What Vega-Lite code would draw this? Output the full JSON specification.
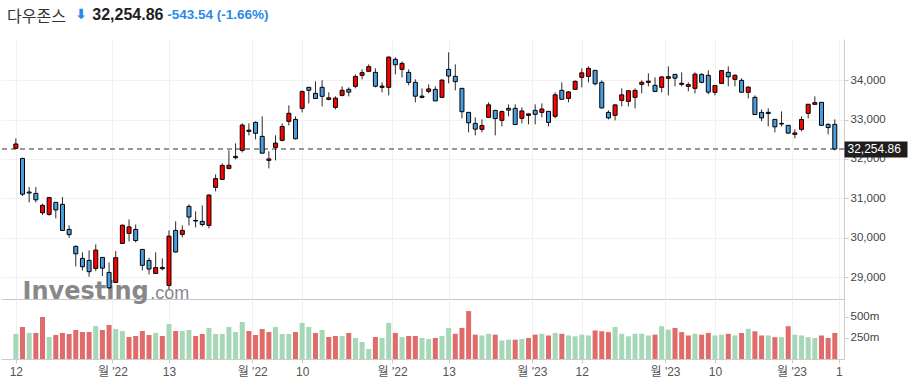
{
  "$schema": "https://vega.github.io/schema/vega-lite/v6.json",
  "background": "white",
  "autosize": {"type": "pad"},
  "padding": {"top": 7, "left": 0, "right": 0, "bottom": 0},
  "config": {"view": {"stroke": null}, "font": "Liberation Sans"},
  "title": {
    "text": "32,254.86",
    "subtitle": "\u200b\u00a0\u00a0\u00a0\u00a0\u00a0\u00a0\u00a0\u00a0\u00a0\u00a0\u00a0\u00a0\u00a0\u00a0\u00a0\u00a0\u00a0\u00a0\u00a0\u00a0-543.54 (-1.66%)",
    "anchor": "start", "frame": "bounds",
    "font": "Liberation Sans", "fontSize": 16, "fontWeight": "bold", "color": "#222",
    "subtitleFont": "Liberation Sans", "subtitleFontSize": 13.5, "subtitleFontWeight": "bold", "subtitleColor": "#2a8be5",
    "subtitlePadding": -15, "offset": -15, "dx": 92
  },
  "data": {"values": [
    {"date":"2022-09-12","i":0,"open":32270,"high":32524,"low":32255,"close":32381,"volume":298},
    {"date":"2022-09-13","i":1,"open":32015,"high":32030,"low":31058,"close":31105,"volume":381},
    {"date":"2022-09-14","i":2,"open":31160,"high":31287,"low":30897,"close":31135,"volume":310},
    {"date":"2022-09-15","i":3,"open":31125,"high":31287,"low":30897,"close":30962,"volume":310},
    {"date":"2022-09-16","i":4,"open":30634,"high":30863,"low":30575,"close":30822,"volume":500},
    {"date":"2022-09-19","i":5,"open":30591,"high":31030,"low":30560,"close":31020,"volume":262},
    {"date":"2022-09-20","i":6,"open":30897,"high":30900,"low":30490,"close":30706,"volume":286},
    {"date":"2022-09-21","i":7,"open":30846,"high":31032,"low":30170,"close":30184,"volume":310},
    {"date":"2022-09-22","i":8,"open":30210,"high":30312,"low":29998,"close":30077,"volume":298},
    {"date":"2022-09-23","i":9,"open":29778,"high":29803,"low":29269,"close":29590,"volume":345},
    {"date":"2022-09-26","i":10,"open":29473,"high":29625,"low":29167,"close":29261,"volume":321},
    {"date":"2022-09-27","i":11,"open":29422,"high":29676,"low":29006,"close":29135,"volume":321},
    {"date":"2022-09-28","i":12,"open":29218,"high":29829,"low":29150,"close":29684,"volume":393},
    {"date":"2022-09-29","i":13,"open":29498,"high":29500,"low":29023,"close":29226,"volume":345},
    {"date":"2022-09-30","i":14,"open":29117,"high":29371,"low":28700,"close":28726,"volume":405},
    {"date":"2022-10-03","i":15,"open":28862,"high":29659,"low":28850,"close":29491,"volume":357},
    {"date":"2022-10-04","i":16,"open":29854,"high":30337,"low":29854,"close":30316,"volume":333},
    {"date":"2022-10-05","i":17,"open":30108,"high":30464,"low":29905,"close":30274,"volume":262},
    {"date":"2022-10-06","i":18,"open":30210,"high":30337,"low":29879,"close":29927,"volume":274},
    {"date":"2022-10-07","i":19,"open":29702,"high":29702,"low":29167,"close":29297,"volume":333},
    {"date":"2022-10-10","i":20,"open":29422,"high":29490,"low":29066,"close":29203,"volume":286},
    {"date":"2022-10-11","i":21,"open":29091,"high":29625,"low":29091,"close":29239,"volume":310},
    {"date":"2022-10-12","i":22,"open":29244,"high":29473,"low":29168,"close":29211,"volume":274},
    {"date":"2022-10-13","i":23,"open":28786,"high":30185,"low":28684,"close":30039,"volume":417},
    {"date":"2022-10-14","i":24,"open":30185,"high":30414,"low":29620,"close":29635,"volume":333},
    {"date":"2022-10-17","i":25,"open":30083,"high":30312,"low":30007,"close":30186,"volume":333},
    {"date":"2022-10-18","i":26,"open":30795,"high":30846,"low":30312,"close":30524,"volume":345},
    {"date":"2022-10-19","i":27,"open":30439,"high":30668,"low":30261,"close":30424,"volume":274},
    {"date":"2022-10-20","i":28,"open":30414,"high":30820,"low":30286,"close":30334,"volume":298},
    {"date":"2022-10-21","i":29,"open":30312,"high":31100,"low":30236,"close":31083,"volume":369},
    {"date":"2022-10-24","i":30,"open":31278,"high":31609,"low":31176,"close":31500,"volume":298},
    {"date":"2022-10-25","i":31,"open":31481,"high":31888,"low":31481,"close":31837,"volume":298},
    {"date":"2022-10-26","i":32,"open":31761,"high":32219,"low":31736,"close":31839,"volume":381},
    {"date":"2022-10-27","i":33,"open":32066,"high":32397,"low":31990,"close":32033,"volume":321},
    {"date":"2022-10-28","i":34,"open":32219,"high":32905,"low":32168,"close":32862,"volume":440},
    {"date":"2022-10-31","i":35,"open":32702,"high":32905,"low":32600,"close":32733,"volume":333},
    {"date":"2022-11-01","i":36,"open":32931,"high":32956,"low":32499,"close":32653,"volume":286},
    {"date":"2022-11-02","i":37,"open":32575,"high":33083,"low":32140,"close":32148,"volume":357},
    {"date":"2022-11-03","i":38,"open":31965,"high":32193,"low":31761,"close":32001,"volume":321},
    {"date":"2022-11-04","i":39,"open":32295,"high":32600,"low":31965,"close":32403,"volume":381},
    {"date":"2022-11-07","i":40,"open":32473,"high":32905,"low":32448,"close":32827,"volume":298},
    {"date":"2022-11-08","i":41,"open":32956,"high":33363,"low":32855,"close":33161,"volume":298},
    {"date":"2022-11-09","i":42,"open":33007,"high":33083,"low":32499,"close":32514,"volume":321},
    {"date":"2022-11-10","i":43,"open":33287,"high":33745,"low":33185,"close":33715,"volume":429},
    {"date":"2022-11-11","i":44,"open":33821,"high":33830,"low":33414,"close":33748,"volume":381},
    {"date":"2022-11-14","i":45,"open":33668,"high":33973,"low":33530,"close":33537,"volume":310},
    {"date":"2022-11-15","i":46,"open":33821,"high":34000,"low":33338,"close":33593,"volume":345},
    {"date":"2022-11-16","i":47,"open":33516,"high":33694,"low":33490,"close":33554,"volume":262},
    {"date":"2022-11-17","i":48,"open":33312,"high":33592,"low":33262,"close":33546,"volume":274},
    {"date":"2022-11-18","i":49,"open":33617,"high":33846,"low":33592,"close":33746,"volume":274},
    {"date":"2022-11-21","i":50,"open":33770,"high":33821,"low":33592,"close":33700,"volume":310},
    {"date":"2022-11-22","i":51,"open":33846,"high":34151,"low":33795,"close":34098,"volume":250},
    {"date":"2022-11-23","i":52,"open":34126,"high":34278,"low":34024,"close":34194,"volume":202},
    {"date":"2022-11-25","i":53,"open":34228,"high":34406,"low":34228,"close":34347,"volume":119},
    {"date":"2022-11-28","i":54,"open":34202,"high":34304,"low":33821,"close":33849,"volume":262},
    {"date":"2022-11-29","i":55,"open":33821,"high":33948,"low":33694,"close":33853,"volume":250},
    {"date":"2022-11-30","i":56,"open":33821,"high":34609,"low":33617,"close":34590,"volume":429},
    {"date":"2022-12-01","i":57,"open":34533,"high":34584,"low":34151,"close":34395,"volume":310},
    {"date":"2022-12-02","i":58,"open":34278,"high":34482,"low":34075,"close":34430,"volume":262},
    {"date":"2022-12-05","i":59,"open":34202,"high":34278,"low":33872,"close":33947,"volume":274},
    {"date":"2022-12-06","i":60,"open":33948,"high":34024,"low":33440,"close":33596,"volume":274},
    {"date":"2022-12-07","i":61,"open":33567,"high":33795,"low":33541,"close":33598,"volume":250},
    {"date":"2022-12-08","i":62,"open":33719,"high":33897,"low":33668,"close":33781,"volume":238},
    {"date":"2022-12-09","i":63,"open":33770,"high":33846,"low":33470,"close":33476,"volume":250},
    {"date":"2022-12-12","i":64,"open":33567,"high":34024,"low":33560,"close":34005,"volume":274},
    {"date":"2022-12-13","i":65,"open":34278,"high":34711,"low":33922,"close":34109,"volume":369},
    {"date":"2022-12-14","i":66,"open":34100,"high":34406,"low":33745,"close":33966,"volume":300},
    {"date":"2022-12-15","i":67,"open":33795,"high":33795,"low":33033,"close":33202,"volume":370},
    {"date":"2022-12-16","i":68,"open":33185,"high":33185,"low":32677,"close":32920,"volume":570},
    {"date":"2022-12-19","i":69,"open":32905,"high":33058,"low":32600,"close":32758,"volume":290},
    {"date":"2022-12-20","i":70,"open":32753,"high":33007,"low":32677,"close":32850,"volume":280},
    {"date":"2022-12-21","i":71,"open":33058,"high":33440,"low":33058,"close":33376,"volume":300},
    {"date":"2022-12-22","i":72,"open":33236,"high":33236,"low":32600,"close":33027,"volume":290},
    {"date":"2022-12-23","i":73,"open":32982,"high":33236,"low":32829,"close":33204,"volume":220},
    {"date":"2022-12-27","i":74,"open":33287,"high":33389,"low":33083,"close":33242,"volume":230},
    {"date":"2022-12-28","i":75,"open":33287,"high":33389,"low":32870,"close":32876,"volume":230},
    {"date":"2022-12-29","i":76,"open":33033,"high":33312,"low":32905,"close":33221,"volume":240},
    {"date":"2022-12-30","i":77,"open":33109,"high":33160,"low":32880,"close":33147,"volume":250},
    {"date":"2023-01-03","i":78,"open":33236,"high":33389,"low":32880,"close":33136,"volume":290},
    {"date":"2023-01-04","i":79,"open":33185,"high":33414,"low":33058,"close":33270,"volume":300},
    {"date":"2023-01-05","i":80,"open":33210,"high":33210,"low":32829,"close":32930,"volume":280},
    {"date":"2023-01-06","i":81,"open":33084,"high":33694,"low":33033,"close":33631,"volume":310},
    {"date":"2023-01-09","i":82,"open":33745,"high":33948,"low":33516,"close":33518,"volume":300},
    {"date":"2023-01-10","i":83,"open":33541,"high":33719,"low":33440,"close":33704,"volume":280},
    {"date":"2023-01-11","i":84,"open":33770,"high":33999,"low":33770,"close":33973,"volume":270},
    {"date":"2023-01-12","i":85,"open":34075,"high":34304,"low":33821,"close":34190,"volume":290},
    {"date":"2023-01-13","i":86,"open":34100,"high":34355,"low":33948,"close":34303,"volume":280},
    {"date":"2023-01-17","i":87,"open":34253,"high":34253,"low":33872,"close":33911,"volume":340},
    {"date":"2023-01-18","i":88,"open":33948,"high":33999,"low":33287,"close":33297,"volume":330},
    {"date":"2023-01-19","i":89,"open":33185,"high":33236,"low":33007,"close":33045,"volume":320},
    {"date":"2023-01-20","i":90,"open":33109,"high":33389,"low":32982,"close":33375,"volume":380},
    {"date":"2023-01-23","i":91,"open":33490,"high":33795,"low":33338,"close":33630,"volume":300},
    {"date":"2023-01-24","i":92,"open":33465,"high":33745,"low":33338,"close":33734,"volume":270},
    {"date":"2023-01-25","i":93,"open":33567,"high":33795,"low":33287,"close":33744,"volume":300},
    {"date":"2023-01-26","i":94,"open":33897,"high":33999,"low":33668,"close":33949,"volume":300},
    {"date":"2023-01-27","i":95,"open":33948,"high":34177,"low":33846,"close":33978,"volume":280},
    {"date":"2023-01-30","i":96,"open":33872,"high":34075,"low":33700,"close":33717,"volume":290},
    {"date":"2023-01-31","i":97,"open":33821,"high":34100,"low":33694,"close":34086,"volume":390},
    {"date":"2023-02-01","i":98,"open":34050,"high":34355,"low":33617,"close":34093,"volume":350},
    {"date":"2023-02-02","i":99,"open":34151,"high":34151,"low":33846,"close":34054,"volume":370},
    {"date":"2023-02-03","i":100,"open":33897,"high":34202,"low":33846,"close":33926,"volume":320},
    {"date":"2023-02-06","i":101,"open":33846,"high":33948,"low":33719,"close":33891,"volume":280},
    {"date":"2023-02-07","i":102,"open":33795,"high":34202,"low":33668,"close":34157,"volume":300},
    {"date":"2023-02-08","i":103,"open":34151,"high":34177,"low":33922,"close":33949,"volume":290},
    {"date":"2023-02-09","i":104,"open":34126,"high":34253,"low":33643,"close":33700,"volume":310},
    {"date":"2023-02-10","i":105,"open":33694,"high":33872,"low":33617,"close":33869,"volume":280},
    {"date":"2023-02-13","i":106,"open":33922,"high":34253,"low":33922,"close":34246,"volume":290},
    {"date":"2023-02-14","i":107,"open":34202,"high":34355,"low":33846,"close":34089,"volume":300},
    {"date":"2023-02-15","i":108,"open":34024,"high":34151,"low":33846,"close":34128,"volume":280},
    {"date":"2023-02-16","i":109,"open":33999,"high":34050,"low":33696,"close":33697,"volume":310},
    {"date":"2023-02-17","i":110,"open":33694,"high":33846,"low":33541,"close":33827,"volume":360},
    {"date":"2023-02-21","i":111,"open":33567,"high":33617,"low":33129,"close":33130,"volume":330},
    {"date":"2023-02-22","i":112,"open":33185,"high":33261,"low":32956,"close":33045,"volume":280},
    {"date":"2023-02-23","i":113,"open":33185,"high":33287,"low":32829,"close":33154,"volume":280},
    {"date":"2023-02-24","i":114,"open":33007,"high":33007,"low":32677,"close":32817,"volume":260},
    {"date":"2023-02-27","i":115,"open":32905,"high":33210,"low":32829,"close":32889,"volume":260},
    {"date":"2023-02-28","i":116,"open":32855,"high":32855,"low":32651,"close":32657,"volume":390},
    {"date":"2023-03-01","i":117,"open":32626,"high":32753,"low":32524,"close":32662,"volume":290},
    {"date":"2023-03-02","i":118,"open":32753,"high":33083,"low":32702,"close":33004,"volume":280},
    {"date":"2023-03-03","i":119,"open":33160,"high":33391,"low":33033,"close":33391,"volume":260},
    {"date":"2023-03-06","i":120,"open":33389,"high":33592,"low":33389,"close":33431,"volume":250},
    {"date":"2023-03-07","i":121,"open":33440,"high":33440,"low":32856,"close":32856,"volume":280},
    {"date":"2023-03-08","i":122,"open":32880,"high":32905,"low":32626,"close":32798,"volume":250},
    {"date":"2023-03-09","i":123,"open":32880,"high":33007,"low":32219,"close":32255,"volume":310}
  ]},
  "vconcat": [
    {
      "width": 843,
      "height": 260,
      "title": {
        "text": "다우존스",
        "subtitle": "\u200b\u00a0\u00a0\u00a0\u00a0\u00a0\u00a0\u00a0\u00a0\u00a0\u00a0\u00a0\u00a0\u00a0\u00a0⬇",
        "anchor": "start", "frame": "group",
        "font": "Noto Sans CJK KR", "fontSize": 16, "fontWeight": "normal", "color": "#333",
        "subtitleFont": "DejaVu Sans", "subtitleFontSize": 14, "subtitleFontWeight": "bold", "subtitleColor": "#2a8be5",
        "subtitlePadding": -17, "offset": 13, "dx": 6
      },
      "resolve": {"axis": {"y": "independent"}},
      "layer": [
        {
          "data": {"values": [{}]},
          "mark": {"type": "text", "text": "Investing", "font": "DejaVu Sans", "fontSize": 24, "fontWeight": "bold", "color": "#888888", "align": "left", "baseline": "alphabetic"},
          "encoding": {
            "x": {"datum": 1.0, "type": "quantitative"},
            "y": {"datum": 28430, "type": "quantitative", "axis": null}
          }
        },
        {
          "data": {"values": [{}]},
          "mark": {"type": "text", "text": ".com", "font": "Liberation Sans", "fontSize": 18, "fontWeight": "normal", "color": "#888888", "align": "left", "baseline": "alphabetic"},
          "encoding": {
            "x": {"datum": 20.2, "type": "quantitative"},
            "y": {"datum": 28430, "type": "quantitative", "axis": null}
          }
        },
        {
          "data": {"values": [{}]},
          "mark": {"type": "rule", "strokeDash": [5, 4], "color": "#777", "strokeWidth": 1.5},
          "encoding": {
            "y": {"datum": 32254.86, "type": "quantitative",
              "axis": {"orient": "right", "values": [32254.86], "format": ",.2f", "grid": false, "domain": false,
                "ticks": true, "tickSize": 63, "tickWidth": 16, "tickColor": "#1e1e1e",
                "labelColor": "#ffffff", "labelFontSize": 12, "labelPadding": -60, "labelAlign": "left",
                "labelFont": "Liberation Sans", "title": null, "zindex": 3}}
          }
        },
        {
          "mark": {"type": "rule", "color": "#2a2a2a", "strokeWidth": 1},
          "encoding": {
            "x": {"field": "i", "type": "quantitative",
              "scale": {"domain": [-1.48, 123.63], "nice": false, "zero": false},
              "axis": {"orient": "bottom", "values": [0, 14.5, 23, 35.5, 43, 56.5, 65, 77.5, 85, 97.5, 105, 116.5, 123.6],
                "labels": false, "ticks": false, "grid": true, "gridColor": "#f0f0f0", "domain": true, "domainColor": "#c8c8c8", "title": null}},
            "y": {"field": "low", "type": "quantitative",
              "scale": {"domain": [28441, 35050], "nice": false, "zero": false},
              "axis": {"orient": "right", "values": [29000, 30000, 31000, 32000, 33000, 34000], "format": ",.0f",
                "grid": true, "gridColor": "#f2f2f2", "tickSize": 4, "tickColor": "#ccc", "domainColor": "#ccc",
                "labelFontSize": 11.5, "labelColor": "#444", "labelPadding": 2, "labelFont": "Liberation Sans", "title": null}},
            "y2": {"field": "high"}
          }
        },
        {
          "mark": {"type": "bar", "width": 4, "stroke": "#000", "strokeWidth": 1},
          "encoding": {
            "x": {"field": "i", "type": "quantitative"},
            "y": {"field": "open", "type": "quantitative", "axis": null},
            "y2": {"field": "close"},
            "fill": {"condition": {"test": "datum.close >= datum.open", "value": "#ff0000"}, "value": "#4a9de0"}
          }
        }
      ]
    },
    {
      "width": 843,
      "height": 60,
      "transform": [{"window": [{"op": "lag", "field": "close", "as": "prev"}], "sort": [{"field": "i", "order": "ascending"}]}],
      "mark": {"type": "bar", "width": 5},
      "encoding": {
        "x": {"field": "i", "type": "quantitative",
          "scale": {"domain": [-1.48, 123.63], "nice": false, "zero": false},
          "axis": {"orient": "bottom", "values": [0, 14.5, 23, 35.5, 43, 56.5, 65, 77.5, 85, 97.5, 105, 116.5, 123.6],
            "labelExpr": "datum.value == 0 ? '12' : datum.value == 14.5 ? \"월 '22\" : datum.value == 23 ? '13' : datum.value == 35.5 ? \"월 '22\" : datum.value == 43 ? '10' : datum.value == 56.5 ? \"월 '22\" : datum.value == 65 ? '13' : datum.value == 77.5 ? \"월 '23\" : datum.value == 85 ? '12' : datum.value == 97.5 ? \"월 '23\" : datum.value == 105 ? '10' : datum.value == 116.5 ? \"월 '23\" : '1'",
            "labelFont": "Liberation Sans, Noto Sans CJK KR", "labelFontSize": 12, "labelColor": "#555",
            "labelFlush": false, "labelOverlap": false, "labelPadding": 3,
            "grid": true, "gridColor": "#f0f0f0", "ticks": true, "tickSize": 4, "tickColor": "#ccc",
            "domain": true, "domainColor": "#ccc", "title": null}},
        "y": {"field": "volume", "type": "quantitative",
          "scale": {"domain": [0, 714], "nice": false},
          "axis": {"orient": "right", "values": [250, 500], "labelExpr": "datum.value + 'm'", "grid": false,
            "tickSize": 4, "tickColor": "#ccc", "domainColor": "#ccc", "labelFontSize": 11.5, "labelColor": "#444",
            "labelPadding": 2, "labelFont": "Liberation Sans", "title": null}},
        "fill": {"condition": {"test": "datum.prev == null || datum.close >= datum.prev", "value": "#a6d7b6"}, "value": "#e06b6b"}
      }
    }
  ],
  "spacing": 0,
  "bounds": "flush"
}
